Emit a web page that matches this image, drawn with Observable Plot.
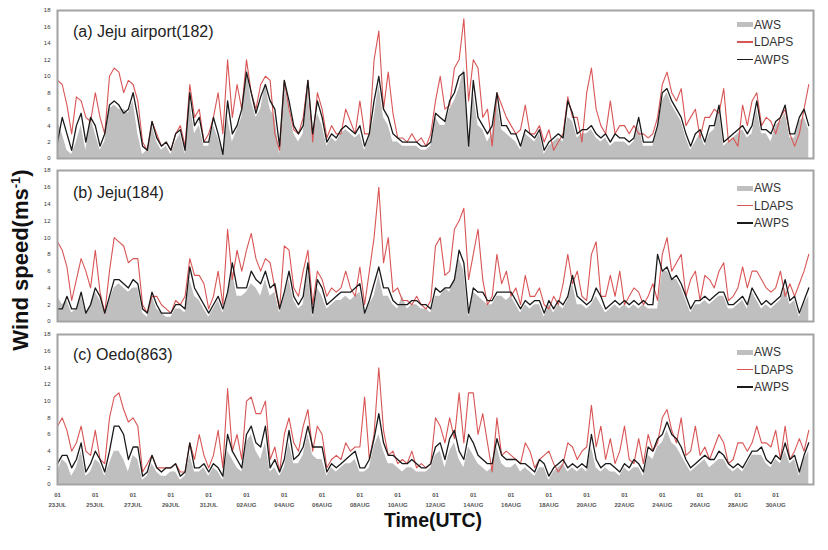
<!DOCTYPE html>
<html><head><meta charset="utf-8">
<script src="https://cdn.jsdelivr.net/npm/d3@7"></script>
<script src="https://cdn.jsdelivr.net/npm/@observablehq/plot@0.6"></script>
<style>
body{margin:0;background:#fff;font-family:Arial,"Liberation Sans",sans-serif;}
#wrap{position:relative;width:828px;height:550px;overflow:hidden;}
.panel{position:absolute;left:0;}
.ptitle{position:absolute;left:73px;font-size:16px;line-height:18px;color:#222;white-space:nowrap;}
.legend{position:absolute;left:737px;font-size:12px;color:#333;}
.legend .row{height:17.3px;display:flex;align-items:center;}
.legend .sw{display:inline-block;width:16px;margin-right:1px;}
#ylab{position:absolute;left:21px;top:260px;transform:translate(-50%,-50%) rotate(-90deg);font-weight:bold;font-size:22px;white-space:nowrap;color:#111;}
#ylab sup{font-size:13px;}
#xlab{position:absolute;left:433px;top:520px;transform:translate(-50%,-50%);font-weight:bold;font-size:19.5px;white-space:nowrap;color:#111;}
</style>
</head><body>
<div id="wrap"></div>
<script>
// ---- tick labels ----
const yTicks = [0,2,4,6,8,10,12,14,16,18];
const xTickDays = [0,2,4,6,8,10,12,14,16,18,20,22,24,26,28,30,32,34,36,38];
const xTickHour = "01";
const xTickDates = ["23JUL","25JUL","27JUL","29JUL","31JUL","02AUG","04AUG","06AUG","08AUG","10AUG","12AUG","14AUG","16AUG","18AUG","20AUG","22AUG","24AUG","26AUG","28AUG","30AUG"];
const seriesNames = ["AWS","LDAPS","AWPS"];
const panelTitles = ["(a) Jeju airport(182)","(b) Jeju(184)","(c) Oedo(863)"];

// ---- 6-hourly wind speed (m/s), 23 JUL 01UTC onward ----
const awsA = [4.5,3,1,0.5, 2,4,1,5, 3,1,2,6, 6.5,6,6,5.5, 7,3,0.5,1, 4,2,1,1.5, 0.5,2,3,0.5, 7,3,4,1.5, 1.5,4,2.5,0.5, 5,2,3.5,5, 11,7,5,6, 9,6,5,0.5, 9,6,3,2, 3,8.5,2,5.5, 4,1.5,2.5,2, 3,3.5,3,2.5, 3,1,2.5,5, 9,5,4,2, 2,1.5,1.5,1.5, 1.5,1,1,1.5, 5,4,4,6, 7,8.5,11,1, 8,4,3.5,2, 3,7,3.5,3, 2.5,2,1,3, 2.5,2,3,0.5, 1.5,2,2.5,2, 5,4.5,2.5,3, 3,3.5,2.5,2, 2.5,1.5,2,2, 2,1.5,2,4, 1.5,1.5,1.5,3.5, 7,8,6.5,5.5, 4.5,2.5,1,2, 3,1.5,3,3.5, 6,1.5,2,2.5, 3,3.5,2.5,3, 6,3,3,2, 4,4.5,5.5,2.5, 2.5,4.5,5,3.5];
const ldapsA = [9.5,9,6.5,3, 7.5,7,5,4.5, 8,5,3,10, 11,10.5,8,9.5, 9,7,2,1, 4.5,3,1.5,2, 1,3,4,1.5, 9,5,6,2, 3,5,8,3, 12,5,9,6, 12,8,6,9, 10,9.5,3,1, 9.5,6,3.5,3, 5,9.5,2,8, 6,2.5,4,3, 3,6,4.5,3, 7,3,3,12, 15.5,6,10.5,5.5, 2.5,2.5,2,3, 2,2.5,1.5,3, 7,10,6,6.5, 11,12,17,7, 12,11,5,6, 1.5,8,6.5,5, 4,3,3.5,6.5, 3,3,4,2, 3.5,1,2,3, 7.5,5,5,2, 8,11,6,4, 3,7,3,4, 4,3,4,3, 3,2.5,3,5, 9,10.5,8,7, 8.5,4,5,6, 2.5,5,5,6, 5.5,8.5,2,2.5, 1.5,6.5,4,7, 8,4,5,4.5, 3,5,6,3, 1.5,3,6,9];
const awpsA = [2,5,3,1, 4,5.5,2,5, 4,1.5,3,6.5, 7,6.5,5.5,6, 8,5,1.5,1, 4.5,2.5,1.5,2, 1,3,3.5,1, 8,4,5,2, 2,5,3,0.5, 7,3,4,6, 10.5,8,5.5,7.5, 9,7,6,1.5, 9.5,7,4,3, 4,9.5,3,7, 5,2,3,2.5, 3.5,4,3.5,3, 4,1.5,3,7, 10,6,5,3, 2.5,2,2,2, 2,1.5,1.5,2, 5.5,5,4.5,7, 8,10,10.5,1.5, 9.5,5,4,3, 4,8,4,4, 3,3,1.5,3.5, 3,2.5,3.5,1, 2,2.5,3,2.5, 7,5.5,3,3.5, 3.5,4,3,2.5, 3,2,3,2.5, 2.5,2,2.5,5, 2,2,2,4, 8,8.5,7,6, 5,3,1.5,3, 3.5,2,4,4, 6.5,2,2.5,3, 3.5,4,3,4, 7,3.5,3.5,3, 4.5,5,6.5,3, 3,5,6,4];

const awsB = [3,2,2.5,1, 1.5,3,1,2, 3.5,2.5,1,2.5, 4,4.5,4,3.5, 4,4,1,0.5, 3,1.5,1,0.5, 0.5,1.5,1.5,1, 5,3,2.5,1.5, 0.5,1.5,2.5,1, 3,6,3,3, 3.5,4.5,4,3, 5,3,3.5,1, 3,5,2.5,1.5, 2,6,0.5,4, 3,1.5,2,2.5, 2.5,3,2.5,3, 3.5,1,2,3, 5.5,3,3,2, 1.5,3,1.5,2, 2,1.5,1.5,1, 3,3,4,3.5, 5,7.5,6,0.5, 3.5,3,2.5,2, 2,3,3,2.5, 3,2,1,2, 1.5,2,2,0.5, 2,1,2,1.5, 2.5,4.5,2,2, 1.5,2,3,2, 1,1.5,2,1.5, 2,1.5,2,1.5, 2,1.5,1.5,1.5, 6,6,5,5, 4,2.5,1,2, 2,2.5,2,2.5, 3,3,1.5,1.5, 2,2.5,1.5,3.5, 2.5,1.5,2,1.5, 2,2.5,4,2, 2.5,0.5,2,3];
const ldapsB = [9.5,8.5,6.5,2.5, 5,7.5,6,4, 8.5,3.5,1,6, 10,9.5,9,7, 7.5,7.5,2,1, 3,3,2,1.5, 1,2.5,2,3, 7.5,5.5,5.5,4.5, 1.5,3,6,2, 11,5,8.5,6, 8.5,10.5,7.5,6, 7.5,7,4,1.5, 9,8.5,4,3, 6,8.5,2,6, 5,3,4,3.5, 4,6,4,3, 6.5,2,6,10, 16,7,10,3.5, 4,2.5,2.5,2, 3,2,1.5,2.5, 9,10,5.5,6, 11,12,13.5,5, 8,11,5,2, 3,8,4.5,6, 3,4,2,5.5, 3,3,4,2, 1.5,3,2,4.5, 8,4.5,6,3, 2.5,8,9.5,3, 3,5.5,3,6, 2,3,4,3.5, 2,3,4.5,2.5, 8,10,6,7, 8,3,5,6, 2.5,5.5,5,4, 6,7,2.5,3, 4,6.5,4,6, 6,5,4,3.5, 4,6,3,4.5, 3,4.5,6,8];
const awpsB = [1.5,1.5,3,1.5, 1.5,3.5,1,2, 4,3,1,3, 5,5,4.5,4, 5,4.5,1.5,1, 3.5,2,1,1, 1,2,2,1.5, 6.5,4,3,2, 1,2,3,1.5, 3.5,7,4,4, 4,6,5,4.5, 6,4,4.5,1.5, 3.5,6,3,2, 3,7,1,5, 4,2,2.5,3, 3.5,3.5,3.5,4, 4.5,1,2.5,4.5, 6.5,4,4,2.5, 2,2,2,2.5, 2.5,2,2,1.5, 4,3.5,4,4, 5,8.5,7,1, 4,3.5,3.5,2.5, 2.5,3.5,3.5,3.5, 3.5,2.5,1.5,2.5, 2,2.5,2.5,1, 2.5,1.5,2.5,2, 3,5.5,3,2.5, 2,2.5,4,3, 1.5,2,2.5,2, 2.5,2,2.5,2, 2.5,2,2,8, 6,6.5,5,5.5, 4.5,3,1.5,2.5, 2.5,3,2.5,3, 3.5,3.5,2,2, 2.5,3,2,4, 3,2,2.5,2, 2.5,3,5,2.5, 3,1,2.5,4];

const awsC = [1.5,3,2.5,1, 2,4,1,1.5, 3,2.5,1,2.5, 4,4,3,1.5, 3.5,3,0.5,1, 2.5,1.5,1,1, 1.5,1.5,0.5,1, 3.5,1.5,1.5,2, 1,2,1.5,0.5, 4,3,2,1.5, 5,6,4,3, 5,1.5,2,1, 2,5,2.5,2.5, 3.5,6,3.5,3, 3,1,2,1.5, 2,2.5,2.5,3, 1.5,1.5,2,4.5, 6,4,2.5,2.5, 2,1.5,2,2, 1.5,1.5,1.5,2, 3.5,4,2,4, 5,3,2,4.5, 3.5,2.5,2,1.5, 2,4.5,2.5,2, 2,2.5,1.5,2, 1.5,1,2,2, 0.5,1.5,2,2.5, 1.5,2,1.5,2, 1.5,4.5,2,1.5, 2,1.5,1.5,1, 2,1.5,2,2, 1,3.5,3,4.5, 5,6.5,5,4.5, 3.5,2.5,1.5,2, 2.5,3,2,2.5, 3,3,2,1.5, 2,1.5,2.5,3.5, 3.5,3.5,2.5,2, 3,2.5,4,2.5, 3,1,3,4];
const ldapsC = [7,8,6.5,4, 5,7,4,3.5, 6.5,3,2.5,8, 10.5,11,9,7.5, 8,7,1.5,2.5, 3.5,2,2,2, 2,2.5,1.5,1.5, 5,3,6,3.5, 2,3.5,6.5,2, 11.5,4,6,3, 10,10.5,8.5,8.5, 10,3,4.5,1.5, 6,8,5,4, 7,9,4,7, 6,2,3,3.5, 3,5,4,4.5, 4.5,10.5,3,6, 14,6.5,3.5,4, 2.5,3,2.5,4, 2,2.5,2,2.5, 8,7,5,8, 5.5,11,5,11, 11,6,8.5,5, 1.5,8,3.5,4, 3.5,3,2.5,5, 4,2,3,3.5, 4,2.5,1.5,2.5, 5,4.5,3,4, 4.5,9.5,4.5,7, 3,5.5,2.5,4, 7,3,2.5,5.5, 2.5,6,4,5, 8,9,6.5,5, 8,3.5,4,7, 3.5,4.5,3,4.5, 6,5,2.5,3, 5,5,4,5, 7,5,5,4.5, 6.5,3,7,3, 4,5.5,4,6.5];
const awpsC = [2.5,3.5,3.5,2, 3,5,1.5,2.5, 4,3,1.5,4, 7,7,6,3, 4.5,4.5,1,1.5, 3.5,2,1.5,2, 2,2.5,1,1.5, 5,2,2,2.5, 1.5,2.5,2,1, 6,4,3,2, 6,7,5,4.5, 7,2,3,1.5, 3,6.5,3,3.5, 4.5,7,4.5,4.5, 4.5,1.5,2.5,2, 2.5,3,3.5,4, 2,2,3,5.5, 8.5,5,3.5,3.5, 3,2.5,2.5,3, 2.5,2,2,2.5, 4.5,5,3,5.5, 6.5,4,3,6, 5,3.5,3,2.5, 2.5,5.5,3.5,3, 3,3,2.5,2.5, 2,1.5,3,2.5, 1,2,2.5,3, 2,2.5,2,2.5, 2,6,3,2, 2.5,2.5,2,1.5, 2.5,2,3,2.5, 1.5,4.5,4,5.5, 6,7.5,6,5.5, 4.5,3,2,2.5, 3,3.5,3,3, 4,3.5,2.5,2, 2.5,2,3,4, 4,4.5,3,2.5, 3.5,3,5,3, 3.5,1.5,3.5,5];

const colors = {AWS:"#bfbfbf", LDAPS:"#d95555", AWPS:"#1a1a1a"};
const STEP = 0.25; // days per sample

const panels = [
  {aws:awsA, ldaps:ldapsA, awps:awpsA, top:0,   height:162, mt:10, mb:4,  xaxis:false, titleTop:23, legTop:16.3},
  {aws:awsB, ldaps:ldapsB, awps:awpsB, top:162, height:163, mt:8,  mb:4,  xaxis:false, titleTop:184, legTop:179.6},
  {aws:awsC, ldaps:ldapsC, awps:awpsC, top:325, height:225, mt:9,  mb:66, xaxis:true,  titleTop:346, legTop:343.6}
];

const wrap = document.getElementById("wrap");

panels.forEach((p, k) => {
  const xf = (d, i) => i * STEP;
  const marks = [
    Plot.areaY(p.aws, {x: xf, y: d => d, fill: colors.AWS}),
    Plot.lineY(p.ldaps, {x: xf, y: d => d, stroke: colors.LDAPS, strokeWidth: 1.1}),
    Plot.lineY(p.awps, {x: xf, y: d => d, stroke: colors.AWPS, strokeWidth: 1.3}),
    Plot.frame({stroke: "#a3a3a3", strokeWidth: 2}),
    Plot.axisY({ticks: yTicks, tickSize: 0, tickPadding: 7, label: null, fill: "#333"})
  ];
  if (p.xaxis) {
    marks.push(Plot.text(xTickDays, {x: d => d, frameAnchor: "bottom", lineAnchor: "middle", dy: 11, text: () => xTickHour, fill: "#555", fontWeight: "bold"}));
    marks.push(Plot.text(xTickDays, {x: d => d, frameAnchor: "bottom", lineAnchor: "middle", dy: 21, text: (d, i) => xTickDates[i], fill: "#555", fontWeight: "bold"}));
  }
  const chart = Plot.plot({
    width: 828, height: p.height,
    marginLeft: 57, marginRight: 15, marginTop: p.mt, marginBottom: p.mb,
    x: {domain: [0, 40], axis: null},
    y: {domain: [0, 18], axis: null},
    style: {fontSize: "6px", fontFamily: "Arial, 'Liberation Sans', sans-serif", background: "transparent", overflow: "visible"},
    marks
  });
  const holder = document.createElement("div");
  holder.className = "panel";
  holder.style.top = p.top + "px";
  holder.appendChild(chart);
  wrap.appendChild(holder);

  const t = document.createElement("div");
  t.className = "ptitle";
  t.style.top = p.titleTop + "px";
  t.textContent = panelTitles[k];
  wrap.appendChild(t);

  const leg = document.createElement("div");
  leg.className = "legend";
  leg.style.top = p.legTop + "px";
  seriesNames.forEach(n => {
    const row = document.createElement("div");
    row.className = "row";
    const sw = document.createElement("span");
    sw.className = "sw";
    sw.style.background = colors[n];
    sw.style.height = n === "AWS" ? "5px" : "1.5px";
    row.appendChild(sw);
    row.appendChild(document.createTextNode(n));
    leg.appendChild(row);
  });
  wrap.appendChild(leg);
});

const yl = document.createElement("div");
yl.id = "ylab";
yl.innerHTML = "Wind speed(ms<sup>-1</sup>)";
wrap.appendChild(yl);
const xl = document.createElement("div");
xl.id = "xlab";
xl.textContent = "Time(UTC)";
wrap.appendChild(xl);
</script>
</body></html>
